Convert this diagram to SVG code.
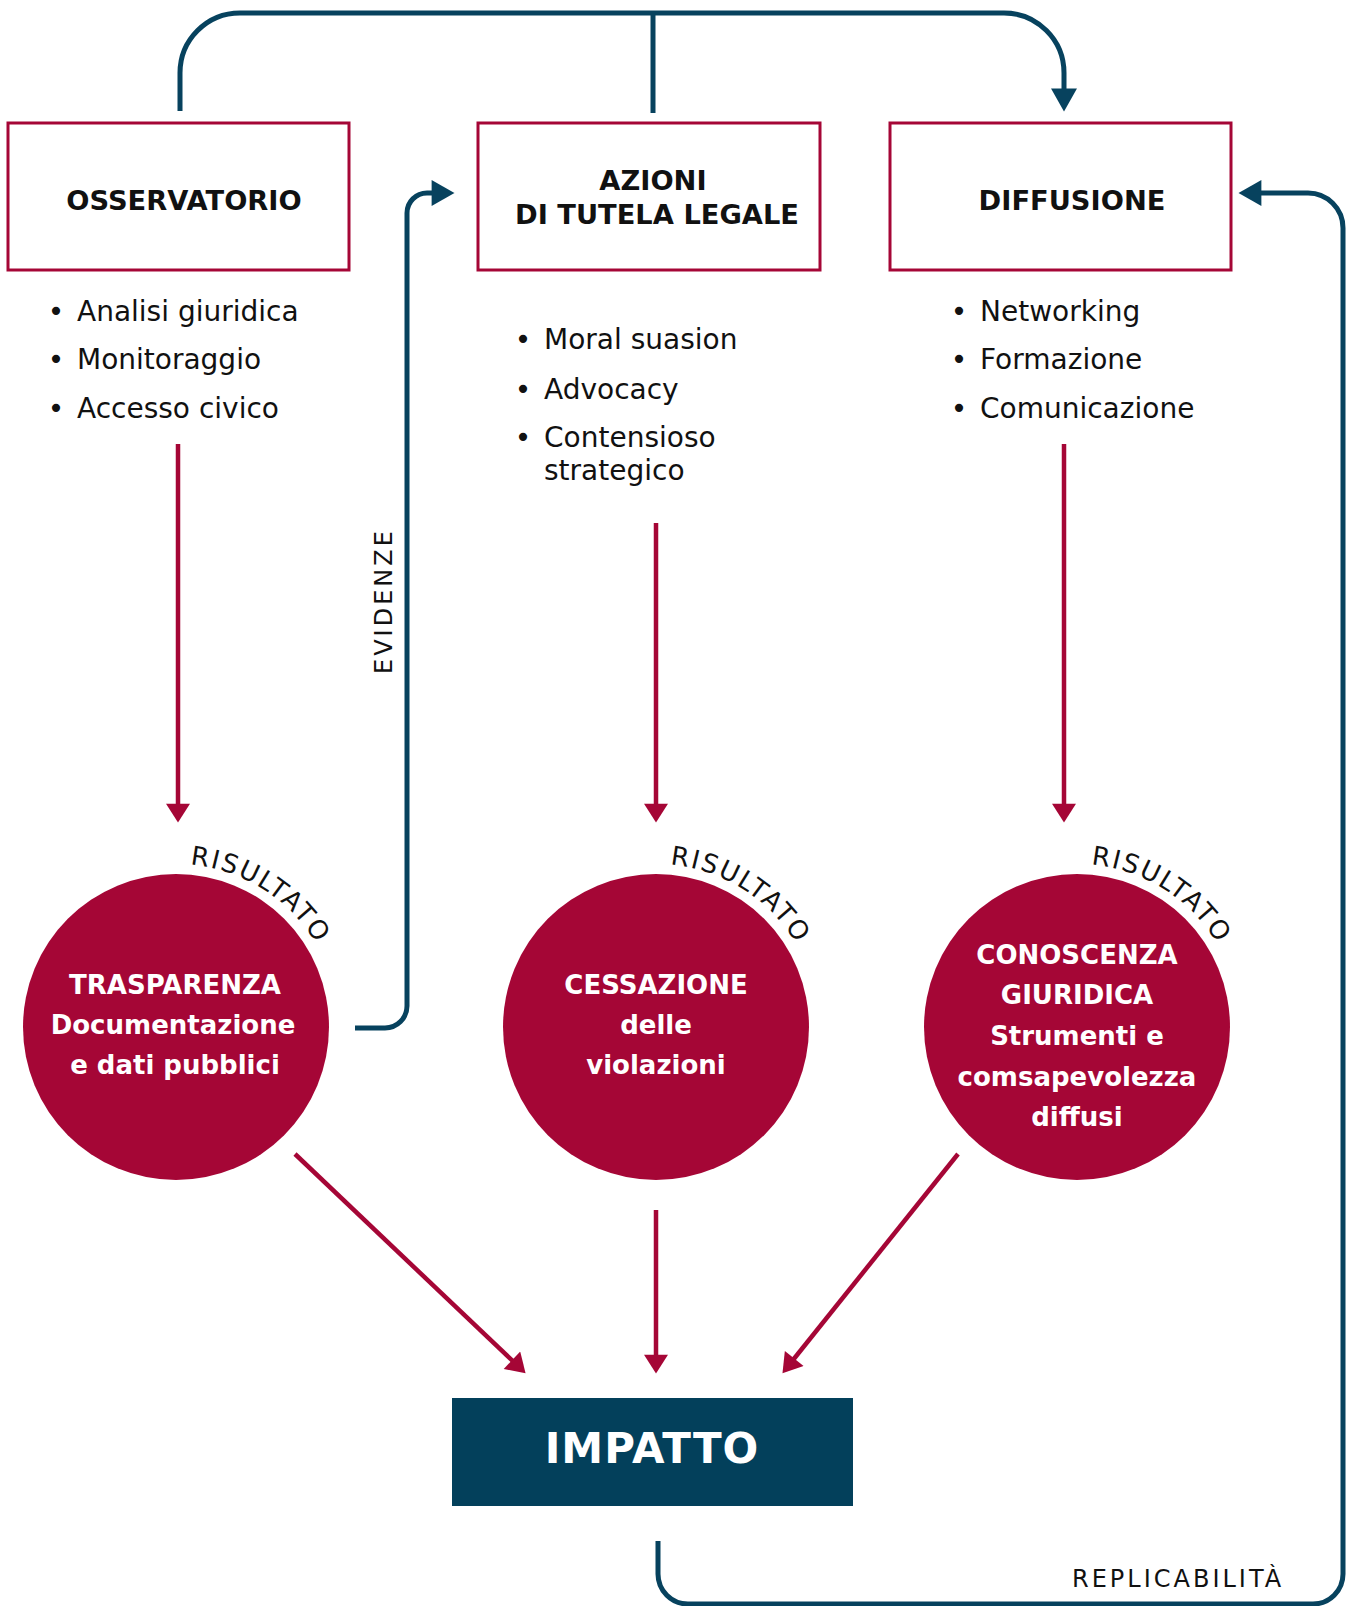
<svg xmlns="http://www.w3.org/2000/svg" width="1355" height="1606" viewBox="0 0 1355 1606">
<style>
.box{fill:#ffffff;stroke:#a50636;stroke-width:3}
.title{font-family:"DejaVu Sans",sans-serif;font-weight:bold;font-size:27.3px;fill:#111111;text-anchor:middle}
.item{font-family:"DejaVu Sans",sans-serif;font-size:28px;fill:#111111}
.bul{font-family:"DejaVu Sans",sans-serif;font-size:28px;fill:#111111;text-anchor:middle}
.circ{fill:#a50636}
.ctext{font-family:"DejaVu Sans",sans-serif;font-weight:bold;font-size:26px;fill:#ffffff;text-anchor:middle}
.res{font-family:"DejaVu Sans",sans-serif;font-size:26px;fill:#111111;letter-spacing:2px}
.lbl{font-family:"DejaVu Sans",sans-serif;font-size:24px;fill:#111111;letter-spacing:3px}
.red{fill:none;stroke:#a50636;stroke-width:4.5}
.teal{fill:none;stroke:#07425e;stroke-width:5}
</style>
<defs>
<marker id="ar" markerUnits="userSpaceOnUse" markerWidth="20" markerHeight="24" viewBox="0 0 18 23" refX="8" refY="11.5" orient="auto">
<path d="M0,0 L18,11.5 L0,23 z" fill="#a50636"/>
</marker>
<marker id="at" markerUnits="userSpaceOnUse" markerWidth="24" markerHeight="26" viewBox="0 0 22 25" refX="10" refY="12.5" orient="auto">
<path d="M0,0 L22,12.5 L0,25 z" fill="#07425e"/>
</marker>
<path id="arc1" d="M176,864 A163,163 0 0 1 339,1027"/>
<path id="arc2" d="M656,864 A163,163 0 0 1 819,1027"/>
<path id="arc3" d="M1077,864 A163,163 0 0 1 1240,1027"/>
</defs>

<g id="connectors">
<path class="teal" d="M180,111 V73 A60,60 0 0 1 240,13 H1004 A60,60 0 0 1 1064,73 V99" marker-end="url(#at)"/>
<path class="teal" d="M653,13 V113"/>
<path class="teal" d="M355,1028 H385 A22,22 0 0 0 407,1006 V213 A20,20 0 0 1 427,193 H442" marker-end="url(#at)"/>
<path class="teal" d="M658,1541 V1574 A30,30 0 0 0 688,1604 H1313 A30,30 0 0 0 1343,1574 V228 A35,35 0 0 0 1308,193 H1251" marker-end="url(#at)"/>
<path class="red" d="M178,444 V812" marker-end="url(#ar)"/>
<path class="red" d="M656,523 V812" marker-end="url(#ar)"/>
<path class="red" d="M1064,444 V812" marker-end="url(#ar)"/>
<path class="red" d="M295,1154 L518,1366" marker-end="url(#ar)"/>
<path class="red" d="M656,1210 V1363" marker-end="url(#ar)"/>
<path class="red" d="M958,1154 L789,1365" marker-end="url(#ar)"/>
<text class="lbl" transform="translate(392,674) rotate(-90)">EVIDENZE</text>
<text class="lbl" x="1072" y="1587">REPLICABILITÀ</text>
</g>

<g id="osservatorio">
<rect class="box" x="8" y="123" width="341" height="147"/>
<text class="title" x="184" y="210">OSSERVATORIO</text>
</g>
<g id="osservatorio-list">
<text class="bul" x="56" y="321">•</text><text class="item" x="77" y="321">Analisi giuridica</text>
<text class="bul" x="56" y="369">•</text><text class="item" x="77" y="369">Monitoraggio</text>
<text class="bul" x="56" y="418">•</text><text class="item" x="77" y="418">Accesso civico</text>
</g>

<g id="azioni">
<rect class="box" x="478" y="123" width="342" height="147"/>
<text class="title" x="653" y="190">AZIONI</text>
<text class="title" x="657" y="224">DI TUTELA LEGALE</text>
</g>
<g id="azioni-list">
<text class="bul" x="523" y="349">•</text><text class="item" x="544" y="349">Moral suasion</text>
<text class="bul" x="523" y="399">•</text><text class="item" x="544" y="399">Advocacy</text>
<text class="bul" x="523" y="447">•</text><text class="item" x="544" y="447">Contensioso</text>
<text class="item" x="544" y="480">strategico</text>
</g>

<g id="diffusione">
<rect class="box" x="890" y="123" width="341" height="147"/>
<text class="title" x="1072" y="210">DIFFUSIONE</text>
</g>
<g id="diffusione-list">
<text class="bul" x="959" y="321">•</text><text class="item" x="980" y="321">Networking</text>
<text class="bul" x="959" y="369">•</text><text class="item" x="980" y="369">Formazione</text>
<text class="bul" x="959" y="418">•</text><text class="item" x="980" y="418">Comunicazione</text>
</g>

<g id="trasparenza">
<circle class="circ" cx="176" cy="1027" r="153"/>
<text class="ctext" x="175" y="994">TRASPARENZA</text>
<text class="ctext" x="173" y="1034">Documentazione</text>
<text class="ctext" x="175" y="1074">e dati pubblici</text>
<text class="res"><textPath href="#arc1" startOffset="14">RISULTATO</textPath></text>
</g>

<g id="cessazione">
<circle class="circ" cx="656" cy="1027" r="153"/>
<text class="ctext" x="656" y="994">CESSAZIONE</text>
<text class="ctext" x="656" y="1034">delle</text>
<text class="ctext" x="656" y="1074">violazioni</text>
<text class="res"><textPath href="#arc2" startOffset="14">RISULTATO</textPath></text>
</g>

<g id="conoscenza">
<circle class="circ" cx="1077" cy="1027" r="153"/>
<text class="ctext" x="1077" y="964">CONOSCENZA</text>
<text class="ctext" x="1077" y="1004">GIURIDICA</text>
<text class="ctext" x="1077" y="1045">Strumenti e</text>
<text class="ctext" x="1077" y="1086">comsapevolezza</text>
<text class="ctext" x="1077" y="1126">diffusi</text>
<text class="res"><textPath href="#arc3" startOffset="14">RISULTATO</textPath></text>
</g>

<g id="impatto">
<rect x="452" y="1398" width="401" height="108" fill="#03405b"/>
<text x="652" y="1463" font-family="DejaVu Sans, sans-serif" font-weight="bold" font-size="42" fill="#ffffff" text-anchor="middle" letter-spacing="1">IMPATTO</text>
</g>
</svg>
